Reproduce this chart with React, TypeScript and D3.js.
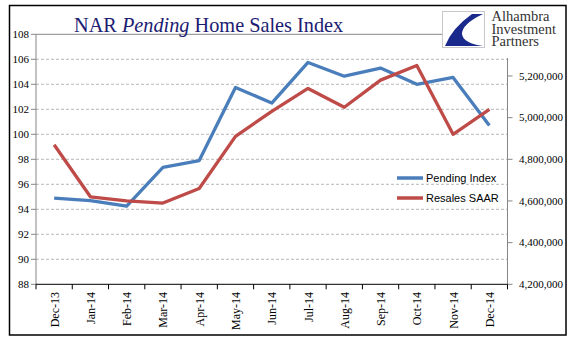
import React from "react";
import * as d3 from "d3";

const categories = ["Dec-13","Jan-14","Feb-14","Mar-14","Apr-14","May-14","Jun-14","Jul-14","Aug-14","Sep-14","Oct-14","Nov-14","Dec-14"];
const pendingIndex = [94.9, 94.7, 94.25, 97.35, 97.9, 103.75, 102.5, 105.75, 104.65, 105.3, 104.0, 104.55, 100.7];
const resalesSAAR = [4870000, 4620000, 4600000, 4590000, 4660000, 4910000, 5030000, 5140000, 5050000, 5180000, 5250000, 4920000, 5040000];
const leftTicks = [88, 90, 92, 94, 96, 98, 100, 102, 104, 106, 108];
const rightTicks = [4200000, 4400000, 4600000, 4800000, 5000000, 5200000];
const seriesNames = ["Pending Index", "Resales SAAR"];

const W = 577, H = 341;
const left = 36, right = 507.5, top = 34.3, bottom = 284.3;
const BLUE = "#4a7ebb";
const RED = "#be4b48";
const SERIF = "'Liberation Serif', 'Times New Roman', serif";
const SANS = "'Liberation Sans', Arial, sans-serif";

export default function App() {
  const x = d3.scaleBand<string>().domain(categories).range([left, right]);
  const yL = d3.scaleLinear().domain([88, 108]).range([bottom, top]);
  const yR = d3.scaleLinear().domain([4200000, 5400000]).range([bottom, top]);
  const cx = (c: string) => (x(c) as number) + x.bandwidth() / 2;

  const lineL = d3.line<number>().x((_, i) => cx(categories[i])).y((d) => yL(d));
  const lineR = d3.line<number>().x((_, i) => cx(categories[i])).y((d) => yR(d));
  const fmt = d3.format(",");
  const boundaries = categories.map((c) => x(c) as number).concat([right]);

  return (
    <svg width={W} height={H} style={{ position: "absolute", left: 0, top: 0, background: "#fff" }}>
      <rect x={0} y={0} width={W} height={H} fill="#fff" />
      {leftTicks.filter((t) => t !== 88 && t !== 108).map((t) => (
        <line key={"g" + t} x1={left} x2={right} y1={yL(t)} y2={yL(t)} stroke="#a6a6a6" strokeWidth={0.8} strokeDasharray="3,2" />
      ))}
      <line x1={left} x2={442} y1={top} y2={top} stroke="#868686" strokeWidth={1} />
      <line x1={left} x2={left} y1={top} y2={bottom} stroke="#868686" strokeWidth={1} />
      {leftTicks.map((t) => (
        <g key={"l" + t}>
          <line x1={left - 5} x2={left} y1={yL(t)} y2={yL(t)} stroke="#868686" />
          <text x={29} y={yL(t)} dy="0.35em" textAnchor="end" fontFamily={SERIF} fontSize={11} fill="#000">{t}</text>
        </g>
      ))}
      <line x1={right} x2={right} y1={58} y2={bottom} stroke="#868686" strokeWidth={1} />
      {rightTicks.map((t) => (
        <g key={"r" + t}>
          <line x1={right} x2={right + 5} y1={yR(t)} y2={yR(t)} stroke="#868686" />
          <text x={519} y={yR(t)} dy="0.35em" textAnchor="start" fontFamily={SERIF} fontSize={11} fill="#000">{fmt(t)}</text>
        </g>
      ))}
      <line x1={left} x2={right} y1={bottom} y2={bottom} stroke="#000" strokeWidth={1} />
      {boundaries.map((b, i) => (
        <line key={"xt" + i} x1={b} x2={b} y1={bottom} y2={bottom + 5} stroke="#000" />
      ))}
      {categories.map((c) => (
        <text key={"xl" + c} transform={`translate(${cx(c) + 4.5},${292}) rotate(-90)`} textAnchor="end" fontFamily={SERIF} fontSize={12} fill="#000">{c}</text>
      ))}
      <path d={lineL(pendingIndex) || ""} fill="none" stroke={BLUE} strokeWidth={3.3} strokeLinejoin="round" />
      <path d={lineR(resalesSAAR) || ""} fill="none" stroke={RED} strokeWidth={3.3} strokeLinejoin="round" />
      {seriesNames.map((n, i) => (
        <g key={n}>
          <line x1={397} x2={423} y1={178 + i * 20} y2={178 + i * 20} stroke={i === 0 ? BLUE : RED} strokeWidth={3.5} />
          <text x={426} y={178 + i * 20} dy="0.35em" fontFamily={SANS} fontSize={11} fill="#000">{n}</text>
        </g>
      ))}
      <text x={74} y={31.5} fontFamily={SERIF} fontSize={20.3} fill="#1c1c72">
        NAR <tspan fontStyle="italic">Pending</tspan> Home Sales Index
      </text>
      <rect x={442.5} y={11.5} width={42} height={36} fill="#fff" stroke="#c8c8c8" strokeWidth={1} />
      <path d="M 483 14 L 472 14 Q 452 28 445 46 L 483 46 Q 463 43 462 34 Q 462 24 483 14 Z" fill="#1a2a8c" />
      <g fontFamily={SERIF} fontSize={14.5} fill="#333">
        <text x={491.5} y={21}>Alhambra</text>
        <text x={491.5} y={33.5}>Investment</text>
        <text x={491.5} y={46}>Partners</text>
      </g>
      <rect x={9.5} y={5.5} width={556.5} height={329.5} fill="none" stroke="#000" strokeWidth={1.5} />
    </svg>
  );
}
